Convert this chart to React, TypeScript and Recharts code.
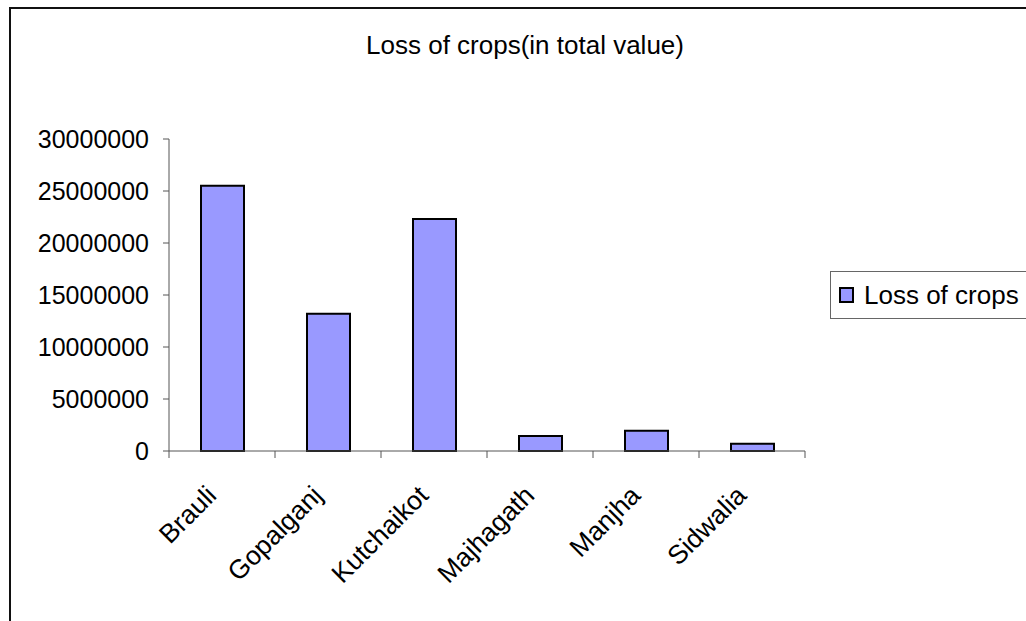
import React from "react";
import { BarChart, Bar, XAxis, YAxis, Legend } from "recharts";

const blocks = ["Brauli", "Gopalganj", "Kutchaikot", "Majhagath", "Manjha", "Sidwalia"];
const lossOfCrops = [25500000, 13200000, 22300000, 1450000, 1950000, 700000];
const yTicks = [0, 5000000, 10000000, 15000000, 20000000, 25000000, 30000000];
const boundaryTicks = [0, 1, 2, 3, 4, 5, 6];

const data = blocks.map((name, i) => ({ name, loss: lossOfCrops[i], pos: i + 0.5 }));

const FONT = "'Liberation Sans', Arial, sans-serif";
const BAR_FILL = "#9999FF";
const AXIS = "#555";

function RotatedTick(props: any) {
  const { x, y, payload } = props;
  return (
    <g transform={`translate(${x - 4},${y + 38}) rotate(-45)`}>
      <text x={0} y={0} textAnchor="end" fontSize={26.5} fontFamily={FONT} fill="#000">
        {payload.value}
      </text>
    </g>
  );
}

function LegendBox() {
  return (
    <div
      style={{
        boxSizing: "border-box",
        width: 196,
        height: 48,
        borderTop: "1px solid #666",
        borderLeft: "1px solid #666",
        borderBottom: "1px solid #666",
        background: "#fff",
        display: "flex",
        alignItems: "center",
        fontFamily: FONT,
        fontSize: 26,
        color: "#000",
      }}
    >
      <span
        style={{
          boxSizing: "border-box",
          width: 15,
          height: 16,
          marginLeft: 8,
          marginRight: 10,
          background: BAR_FILL,
          border: "2px solid #000",
        }}
      />
      <span>Loss of crops</span>
    </div>
  );
}

export default function App() {
  return (
    <div
      style={{
        position: "absolute",
        left: 9,
        top: 7,
        width: 1017,
        height: 614,
        boxSizing: "border-box",
        borderTop: "2px solid #111",
        borderLeft: "2px solid #111",
        background: "#fff",
        overflow: "hidden",
      }}
    >
      <svg
        width={1015}
        height={80}
        style={{ position: "absolute", left: 0, top: 0 }}
      >
        <text x={514} y={45} textAnchor="middle" fontSize={26} fontFamily={FONT} fill="#000">
          Loss of crops(in total value)
        </text>
      </svg>
      <BarChart
        width={1015}
        height={612}
        data={data}
        margin={{ top: 130, right: 25, bottom: 13, left: 8 }}
      >
        <XAxis
          xAxisId="b_names"
          dataKey="name"
          height={149}
          axisLine={false}
          tickLine={false}
          tickSize={0}
          tickMargin={0}
          interval={0}
          tick={<RotatedTick />}
        />
        <XAxis
          xAxisId="a_bounds"
          type="number"
          dataKey="pos"
          domain={[0, 6]}
          ticks={boundaryTicks}
          interval={0}
          height={8}
          tick={() => null}
          tickSize={7}
          tickLine={{ stroke: AXIS, strokeWidth: 1 }}
          axisLine={{ stroke: AXIS }}
        />
        <YAxis
          width={150}
          domain={[0, 30000000]}
          ticks={yTicks}
          interval={0}
          tickSize={6}
          tickMargin={14}
          axisLine={{ stroke: AXIS }}
          tickLine={{ stroke: AXIS }}
          tick={{ fontSize: 25, fontFamily: FONT, fill: "#000" }}
        />
        <Legend
          layout="vertical"
          align="right"
          verticalAlign="middle"
          width={196}
          wrapperStyle={{ left: 819, top: 262, width: 196 }}
          content={() => <LegendBox />}
        />
        <Bar
          xAxisId="b_names"
          dataKey="loss"
          name="Loss of crops"
          fill={BAR_FILL}
          stroke="#000"
          strokeWidth={2}
          barSize={43}
          isAnimationActive={false}
        />
      </BarChart>
    </div>
  );
}
